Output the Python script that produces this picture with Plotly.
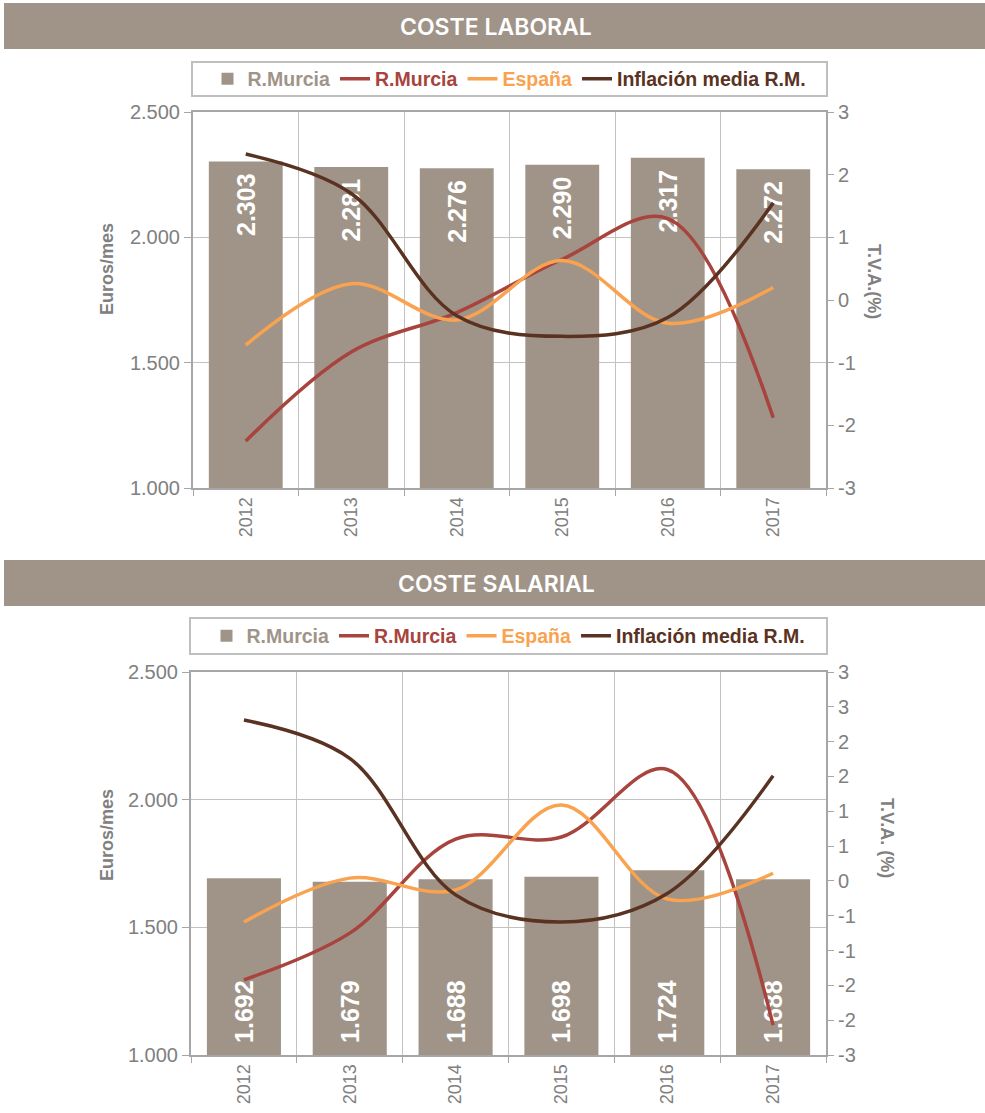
import plotly.graph_objects as go

# ---------------- data ----------------
years = ["2012", "2013", "2014", "2015", "2016", "2017"]

# Coste laboral (top chart)
laboral_euros = [2303, 2281, 2276, 2290, 2317, 2272]
laboral_tva_murcia = [-2.25, -0.83, -0.2, 0.65, 1.3, -1.88]
laboral_tva_espana = [-0.72, 0.26, -0.32, 0.63, -0.37, 0.2]
laboral_inflacion = [2.33, 1.7, -0.25, -0.58, -0.28, 1.55]

# Coste salarial (bottom chart)
salarial_euros = [1692, 1679, 1688, 1698, 1724, 1688]
salarial_tva_murcia = [-1.42, -0.75, 0.6, 0.63, 1.6, -2.07]
salarial_tva_espana = [-0.59, 0.04, -0.13, 1.09, -0.26, 0.11]
salarial_inflacion = [2.31, 1.76, -0.2, -0.59, -0.18, 1.51]

left_ticks = [1000, 1500, 2000, 2500]
left_labels = ["1.000", "1.500", "2.000", "2.500"]
right_ticks_top = [-3, -2, -1, 0, 1, 2, 3]
right_labels_top = ["-3", "-2", "-1", "0", "1", "2", "3"]
right_ticks_bottom = [-2.5, -2.0, -1.5, -1.0, -0.5, 0.0, 0.5, 1.0, 1.5, 2.0, 2.5, 3.0]
right_labels_bottom = ["-3", "-2", "-2", "-1", "-1", "0", "1", "1", "2", "2", "3", "3"]

titles = ["COSTE LABORAL", "COSTE SALARIAL"]
right_titles = ["T.V.A.(%)", "T.V.A. (%)"]

# ---------------- style ----------------
W, H = 985, 1113
AXIS_MIN = 1000
BAR = "#A09488"
RED = "#A8433D"
ORANGE = "#F9A24F"
BROWN = "#5A3222"
GREY_TXT = "#808080"
AXIS = "#A6A6A6"
GRID = "#C2C2C2"
FONT = "Liberation Sans"
PAD = "\u00a0\u200a"


def px(x):
    return x / W


def py(y):
    return 1 - y / H


fig = go.Figure()

panels = [
    dict(euros=laboral_euros, red=laboral_tva_murcia, orange=laboral_tva_espana,
         brown=laboral_inflacion, x="x", y="y", y2="y2", legend="legend",
         anchor="end", tmpl="%{customdata:,.0f}" + PAD),
    dict(euros=salarial_euros, red=salarial_tva_murcia, orange=salarial_tva_espana,
         brown=salarial_inflacion, x="x2", y="y3", y2="y4", legend="legend2",
         anchor="start", tmpl=PAD + "%{customdata:,.0f}"),
]


def nm(txt, col):
    return f'<span style="color:{col}"><b>{txt}</b></span>'


for p in panels:
    fig.add_trace(go.Bar(
        x=years, y=[v - AXIS_MIN for v in p["euros"]], base=AXIS_MIN,
        customdata=p["euros"], xaxis=p["x"], yaxis=p["y"],
        marker=dict(color=BAR, line=dict(width=0)),
        name=nm("R.Murcia", BAR), legend=p["legend"],
        texttemplate=p["tmpl"], textposition="inside", textangle=-90,
        insidetextanchor=p["anchor"], constraintext="none",
        textfont=dict(color="white", size=25, family=FONT, weight="bold"),
    ))
    for vals, col, label in [(p["red"], RED, "R.Murcia"),
                             (p["orange"], ORANGE, "España"),
                             (p["brown"], BROWN, "Inflación media R.M.")]:
        fig.add_trace(go.Scatter(
            x=years, y=vals, xaxis=p["x"], yaxis=p["y2"], mode="lines",
            line=dict(color=col, width=3.5, shape="spline", smoothing=1.0),
            name=nm(label, col), legend=p["legend"],
        ))

# plot areas in pixels
top_box = dict(x0=193, x1=826, y0=112, y1=488)
bot_box = dict(x0=191, x1=826, y0=672, y1=1055)

common_x = dict(type="category", tickson="boundaries", showgrid=True, gridcolor=GRID,
                gridwidth=1, showline=True, linecolor=AXIS, linewidth=2, mirror=True,
                ticks="outside", ticklen=6, tickcolor=AXIS, tickangle=-90,
                tickfont=dict(family=FONT, size=18, color=GREY_TXT), zeroline=False,
                fixedrange=True)
common_yl = dict(range=[1000, 2500], tickvals=left_ticks, ticktext=left_labels,
                 showgrid=True, gridcolor=GRID, gridwidth=1.3, showline=True,
                 linecolor=AXIS, linewidth=2, mirror=True, ticks="outside", ticklen=7,
                 tickcolor=AXIS, tickfont=dict(family=FONT, size=20, color=GREY_TXT),
                 zeroline=False)
common_yr = dict(side="right", showgrid=False, showline=False, ticks="outside",
                 ticklen=7, tickcolor=AXIS, zeroline=False,
                 tickfont=dict(family=FONT, size=20, color=GREY_TXT))

leg = dict(orientation="h", xanchor="center", yanchor="middle",
           font=dict(family=FONT, size=19.5), bgcolor="rgba(0,0,0,0)", borderwidth=0,
           itemclick=False, itemdoubleclick=False, tracegroupgap=0, itemwidth=30)

fig.update_layout(
    width=W, height=H, margin=dict(l=0, r=0, t=0, b=0, autoexpand=False),
    paper_bgcolor="white", plot_bgcolor="white",
    separators=",.", bargap=0.3, showlegend=True,
    xaxis=dict(domain=[px(top_box["x0"]), px(top_box["x1"])], anchor="y", **common_x),
    yaxis=dict(domain=[py(top_box["y1"]), py(top_box["y0"])], anchor="x", **common_yl),
    yaxis2=dict(overlaying="y", anchor="x", range=[-3, 3], tickvals=right_ticks_top,
                ticktext=right_labels_top, **common_yr),
    xaxis2=dict(domain=[px(bot_box["x0"]), px(bot_box["x1"])], anchor="y3", **common_x),
    yaxis3=dict(domain=[py(bot_box["y1"]), py(bot_box["y0"])], anchor="x2", **common_yl),
    yaxis4=dict(overlaying="y3", anchor="x2", range=[-2.5, 3], tickvals=right_ticks_bottom,
                ticktext=right_labels_bottom, **common_yr),
    legend=dict(x=px(509.5), y=py(79), **leg),
    legend2=dict(x=px(508.5), y=py(636), **leg),
)

shapes = []
annotations = []
# banners
for (y0, y1), t in zip([(3, 49), (560, 606)], titles):
    shapes.append(dict(type="rect", xref="paper", yref="paper", x0=px(4), x1=1,
                       y0=py(y1), y1=py(y0), fillcolor=BAR, line=dict(width=0),
                       layer="below"))
    annotations.append(dict(text=t, xref="paper", yref="paper",
                            x=px(496), y=py((y0 + y1) / 2 + 1), showarrow=False,
                            xanchor="center", yanchor="middle",
                            font=dict(family="Inter", size=23, weight=600, color="white")))
# legend boxes
for (x0, x1, y0, y1) in [(192, 827, 62, 96), (190, 827, 618, 654)]:
    shapes.append(dict(type="rect", xref="paper", yref="paper", x0=px(x0), x1=px(x1),
                       y0=py(y1), y1=py(y0), fillcolor="rgba(0,0,0,0)",
                       line=dict(color="#BFBFBF", width=2)))
# axis titles
for (x, y) in [(107, 269), (107, 835)]:
    annotations.append(dict(text="<b>Euros/mes</b>", xref="paper", yref="paper",
                            x=px(x), y=py(y), showarrow=False, textangle=-90,
                            xanchor="center", yanchor="middle",
                            font=dict(family=FONT, size=18, color=GREY_TXT)))
for (x, y), t in zip([(874, 281), (887, 838)], right_titles):
    annotations.append(dict(text=f"<b>{t}</b>", xref="paper", yref="paper",
                            x=px(x), y=py(y), showarrow=False, textangle=90,
                            xanchor="center", yanchor="middle",
                            font=dict(family=FONT, size=18, color=GREY_TXT)))

fig.update_layout(shapes=shapes, annotations=annotations)

fig.write_html("out.html")
